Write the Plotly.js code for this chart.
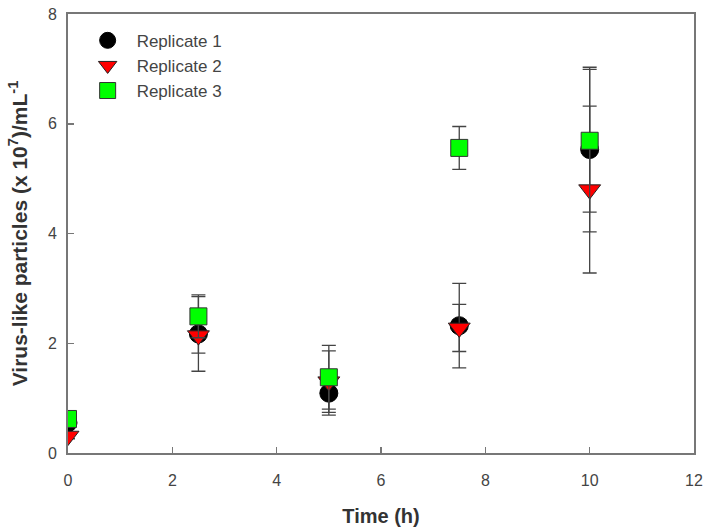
<!DOCTYPE html>
<html>
<head>
<meta charset="utf-8">
<script src="https://cdn.plot.ly/plotly-3.0.1.min.js"></script>
<style>html,body{margin:0;padding:0;background:#fff;}#chart{width:705px;height:527px;}</style>
</head>
<body>
<div id="chart"></div>
<script>
const time = [0, 2.5, 5, 7.5, 10];
const rep1 = [0.55, 2.17, 1.09, 2.32, 5.53];
const rep1Err = [0.05, 0.68, 0.40, 0.77, 1.50];
const rep2 = [0.31, 2.14, 1.30, 2.28, 4.80];
const rep2Err = [0.05, 0.32, 0.56, 0.43, 1.52];
const rep3 = [0.62, 2.49, 1.38, 5.56, 5.69];
const rep3Err = [0.05, 0.39, 0.58, 0.39, 1.30];
const names = ['Replicate 1', 'Replicate 2', 'Replicate 3'];

const FONT = 'Liberation Sans, Arial, sans-serif';
const errStyle = (arr) => ({type: 'data', array: arr, visible: true, color: '#444', thickness: 1.3, width: 7});

const traces = [
  {x: time, y: rep1, name: names[0], type: 'scatter', mode: 'markers', legendgroup: 'a',
   marker: {symbol: 'circle', size: 18, color: '#000000', line: {color: '#000', width: 1}},
   error_y: errStyle(rep1Err)},
  {x: time, y: rep2, name: names[1], type: 'scatter', mode: 'markers', legendgroup: 'b',
   marker: {symbol: 'triangle-down', size: 19, color: '#ff0000', line: {color: '#222', width: 1}},
   error_y: errStyle(rep2Err)},
  {x: time, y: rep3, name: names[2], type: 'scatter', mode: 'markers', legendgroup: 'c',
   marker: {symbol: 'square', size: 17, color: '#00ff00', line: {color: '#333', width: 1}},
   error_y: errStyle(rep3Err)}
];

const axisCommon = {
  showline: true, linecolor: '#777', linewidth: 2, mirror: true,
  ticks: 'inside', ticklen: 6, tickcolor: '#777', tickwidth: 1.5,
  showgrid: false, zeroline: false,
  tickfont: {family: FONT, size: 16, color: '#444'}
};

const layout = {
  width: 705, height: 527,
  margin: {l: 68, r: 11, t: 14, b: 74},
  paper_bgcolor: '#fff', plot_bgcolor: '#fff',
  showlegend: true,
  legend: {x: 0.017, y: 0.98, xanchor: 'left', yanchor: 'top', bgcolor: 'rgba(0,0,0,0)',
           font: {family: FONT, size: 17, color: '#444'}, itemwidth: 48,
           traceorder: 'grouped', tracegroupgap: 0},
  xaxis: Object.assign({}, axisCommon, {range: [0, 12], tickvals: [0, 2, 4, 6, 8, 10, 12], ticklabelstandoff: 12,
    title: {text: '<b>Time (h)</b>', font: {family: FONT, size: 20, color: '#333'}, standoff: 28}}),
  yaxis: Object.assign({}, axisCommon, {range: [0, 8], tickvals: [0, 2, 4, 6, 8], ticklabelstandoff: 6,
    title: {text: '<b>Virus-like particles (x 10<sup>7</sup>)/mL<sup>-1</sup></b>', font: {family: FONT, size: 21, color: '#333'}, standoff: 15}})
};

Plotly.newPlot('chart', traces, layout, {displayModeBar: false, staticPlot: true});
</script>
</body>
</html>
